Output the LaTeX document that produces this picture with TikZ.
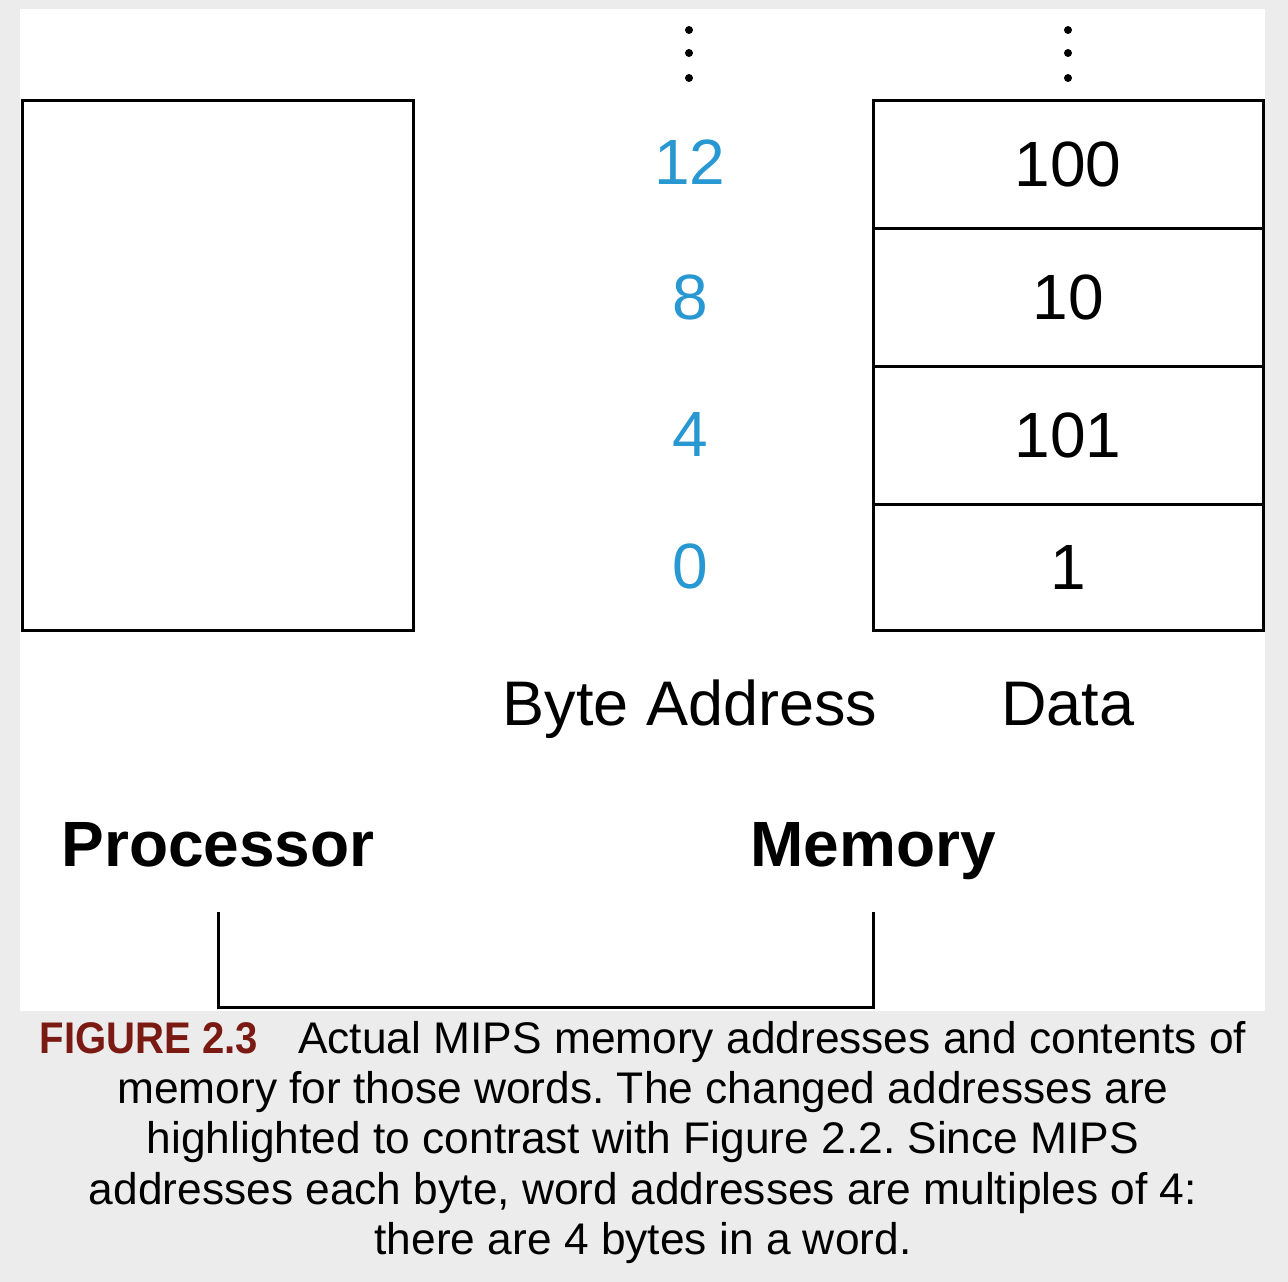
\documentclass[tikz,border=0pt]{standalone}
\usepackage{fontspec}
\usepackage{graphicx}
\setmainfont{Liberation Sans}
\definecolor{addrblue}{RGB}{40,152,210}
\definecolor{figred}{RGB}{122,26,18}
\definecolor{pagegrey}{RGB}{236,236,236}
\tikzset{
	cell/.style={draw,line width=3pt,minimum width=390pt,inner sep=0pt,font=\fontsize{64}{64}\selectfont},
	addr/.style={text=addrblue,inner sep=0pt,font=\fontsize{64}{64}\selectfont},
	lbl/.style={inner sep=0pt,anchor=base,font=\fontsize{63}{63}\selectfont},
	unit/.style={inner sep=0pt,anchor=base,font=\bfseries\fontsize{64}{64}\selectfont}
}
\begin{document}
\frenchspacing
\begin{tikzpicture}[x=1pt,y=-1pt]
	\useasboundingbox (0,0) rectangle (1288,1282);
	\fill[pagegrey] (0,0) rectangle (1288,1282);
	\fill[white] (20,9) rectangle (1265,1011);
	% processor
	\node [draw,line width=3pt,minimum width=391pt,minimum height=530pt] (cpu) at (217.5,365) {};
	% memory words
	\node [cell,minimum height=128pt] (w3) at (1068,164) {100};
	\node [cell,minimum height=138pt] (w2) at (1068,297) {10};
	\node [cell,minimum height=138pt] (w1) at (1068,435) {101};
	\node [cell,minimum height=126pt] (w0) at (1068,567) {1};
	\node [addr] (a3) at (690,162) {12};
	\node [addr] (a2) at (690,297) {8};
	\node [addr] (a1) at (690,434) {4};
	\node [addr] (a0) at (690,566) {0};
	\foreach \y in {30,53,78} {
		\fill (689,\y) circle (4pt);
		\fill (1068,\y) circle (4pt);
	}
	\node [lbl] (byteaddr) at (690,725) {Byte Address};
	\node [lbl] (data) at (1068,725) {Data};
	\node [unit] (proc) at (218,866) {Processor};
	\node [unit] (mem) at (873,866) {Memory};
	\draw [line width=3pt] ([yshift=-46pt]proc.base) -- ++(0,95) -| ([yshift=-46pt]mem.base);
	% caption
	\node [anchor=north,align=center,inner sep=0pt,font=\fontsize{44.3}{50.3}\selectfont] (cap) at (643,1021)
		{\textcolor{figred}{\scalebox{0.905}[1]{\textbf{FIGURE 2.3}}}\hspace{0.9em}Actual MIPS memory addresses and contents of\\
		memory for those words. The changed addresses are\\
		highlighted to contrast with Figure 2.2. Since MIPS\\
		addresses each byte, word addresses are multiples of 4:\\
		there are 4 bytes in a word.};
\end{tikzpicture}
\end{document}
